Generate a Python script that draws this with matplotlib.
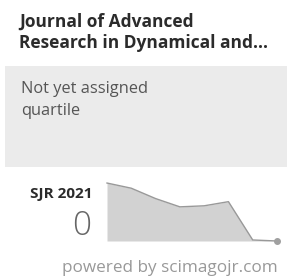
import matplotlib
matplotlib.use('Agg')
import matplotlib.pyplot as plt
from matplotlib.patches import Rectangle

plt.rcParams['font.family'] = ['Open Sans', 'DejaVu Sans']

title_lines = ['Journal of Advanced', 'Research in Dynamical and...']
quartile_lines = ['Not yet assigned', 'quartile']
sjr_label = 'SJR 2021'
sjr_value = '0'
years = [2014, 2015, 2016, 2017, 2018, 2019, 2020, 2021]
sjr = [0.280, 0.255, 0.205, 0.165, 0.170, 0.190, 0.005, 0.0]

W, H = 287, 277
fig = plt.figure(figsize=(W / 100, H / 100), dpi=100)
fig.patch.set_facecolor('white')

# full-figure overlay in pixel coordinates
bg = fig.add_axes([0, 0, 1, 1])
bg.set_xlim(0, W)
bg.set_ylim(H, 0)
bg.axis('off')

bg.add_patch(Rectangle((5, 66), W - 5, 101, facecolor='#ebebeb', edgecolor='none'))

bg.text(19, 22, title_lines[0], fontsize=12.5, fontweight='bold', color='#2b2b2b', va='center')
bg.text(19, 43, title_lines[1], fontsize=12.5, fontweight='bold', color='#2b2b2b', va='center')
bg.text(21, 89, quartile_lines[0], fontsize=11.8, color='#555555', va='center')
bg.text(21, 111, quartile_lines[1], fontsize=11.8, color='#555555', va='center')
bg.text(92, 194, sjr_label, fontsize=11, fontweight='bold', color='#2b2b2b', va='center', ha='right')
bg.text(91, 226, sjr_value, fontsize=24, fontweight='light', color='#666666', va='center', ha='right')
bg.text(278, 268, 'powered by scimagojr.com', fontsize=12.3, color='#999999', va='center', ha='right')

# sparkline
ax = fig.add_axes([107 / W, 1 - 241 / H, 170 / W, 59 / H])
ax.fill_between(years, sjr, 0, color='#d2d2d2', linewidth=0)
ax.plot(years, sjr, color='#999999', linewidth=1)
ax.plot(years[-1], sjr[-1], 'o', color='#a0a0a0', markersize=4)
ax.set_xlim(years[0], years[-1])
ax.set_ylim(0, 0.285)
ax.axis('off')
for a in ax.get_children():
    a.set_clip_on(False)

fig.savefig('out.png', dpi=100, facecolor='white')
